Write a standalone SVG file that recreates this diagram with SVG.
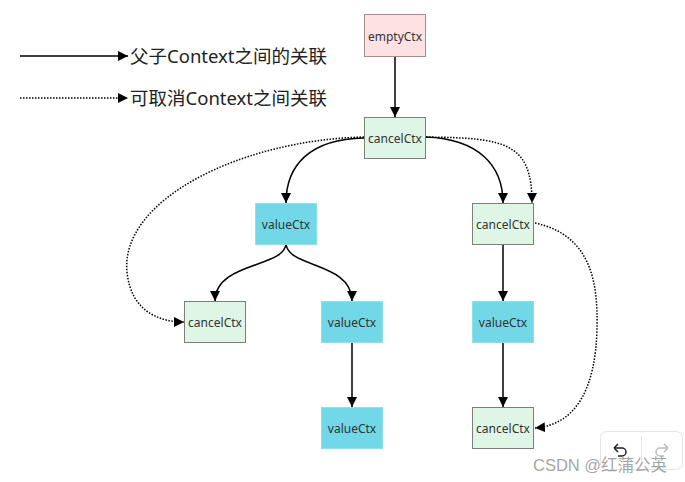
<svg xmlns="http://www.w3.org/2000/svg" width="685" height="482" viewBox="0 0 685 482">
<defs>
<marker id="arr" viewBox="0 0 10 10" refX="10" refY="5" markerWidth="10" markerHeight="10" markerUnits="userSpaceOnUse" orient="auto">
<path d="M0,0 L10,5 L0,10 z" fill="#000"/>
</marker>
<style>
.node rect{stroke-width:1}
.cancel rect{fill:#dff5e5;stroke:#7d7d7d}
.value rect{fill:#72d8e7;stroke:#8ee0ec}
.empty rect{fill:#fde1e3;stroke:#a58a8a}
.node text{font-family:"Noto Sans","Liberation Sans",sans-serif;font-size:12px;fill:#333;text-anchor:middle;dominant-baseline:central}
.solid{fill:none;stroke:#000;stroke-width:1.5;marker-end:url(#arr)}
.dot{fill:none;stroke:#000;stroke-width:1.5;stroke-dasharray:1.5 1.5;marker-end:url(#arr)}
.legend{font-family:"Noto Sans","Noto Sans CJK SC",sans-serif;font-size:18.5px;fill:#222}
</style>
</defs>
<rect width="685" height="482" fill="#fff"/>
<g id="legend">
<path class="solid" d="M20,56 H128"/>
<text class="legend" x="130" y="62.5">父子Context之间的关联</text>
<path class="dot" d="M20,98 H128"/>
<text class="legend" x="130" y="104.5">可取消Context之间关联</text>
</g>
<g id="connectors">
<path class="solid" d="M395,56 V117"/>
<path class="dot" d="M364,137 C240,140 120,200 127,272 C131,312 160,322 184,322"/>
<path class="solid" d="M364,138 C310,139 286,165 286,203"/>
<path class="solid" d="M426,137 C478,139 503,165 503,203"/>
<path class="dot" d="M426,137 C505,138 532,142 532,203"/>
<path class="solid" d="M286,244 C284,268 215,262 215,301"/>
<path class="solid" d="M286,244 C288,268 352,262 352,301"/>
<path class="solid" d="M352,343 V407"/>
<path class="solid" d="M503,245 V301"/>
<path class="solid" d="M503,343 V407"/>
<path class="dot" d="M535,223 C590,235 598,280 597,327 C596,390 575,425 535,428"/>
</g>
<g id="emptyCtx" class="node empty"><rect x="364.5" y="14.5" width="61" height="42"/><text x="395" y="36">emptyCtx</text></g>
<g id="cancelCtx1" class="node cancel"><rect x="364.5" y="117.5" width="61" height="41"/><text x="395" y="138">cancelCtx</text></g>
<g id="valueCtx1" class="node value"><rect x="255.5" y="203.5" width="61" height="41"/><text x="286" y="224">valueCtx</text></g>
<g id="cancelCtx2" class="node cancel"><rect x="472.5" y="203.5" width="61" height="41"/><text x="503" y="224">cancelCtx</text></g>
<g id="cancelCtx3" class="node cancel"><rect x="184.5" y="301.5" width="61" height="41"/><text x="215" y="322">cancelCtx</text></g>
<g id="valueCtx2" class="node value"><rect x="321.5" y="301.5" width="61" height="41"/><text x="352" y="322">valueCtx</text></g>
<g id="valueCtx3" class="node value"><rect x="472.5" y="301.5" width="61" height="41"/><text x="503" y="322">valueCtx</text></g>
<g id="valueCtx4" class="node value"><rect x="321.5" y="407.5" width="61" height="41"/><text x="352" y="428">valueCtx</text></g>
<g id="cancelCtx4" class="node cancel"><rect x="472.5" y="407.5" width="61" height="41"/><text x="503" y="428">cancelCtx</text></g>
<g id="overlay">
<rect x="600.5" y="431.5" width="82" height="38" rx="6" fill="#fff" fill-opacity="0.9" stroke="#e4e4e4"/>
<line x1="641.5" y1="436" x2="641.5" y2="465" stroke="#e4e4e4"/>
<path d="M614,448 L618,444 M614,448 L618,452 M614,448 H622 A4,4 0 0 1 622,456 H618" fill="none" stroke="#222" stroke-width="1.5"/>
<path d="M668,448 L664,444 M668,448 L664,452 M668,448 H660 A4,4 0 0 0 660,456 H664" fill="none" stroke="#bbb" stroke-width="1.5"/>
<text x="533" y="471" font-family="'Liberation Sans','Noto Sans CJK SC',sans-serif" font-size="16.5" fill="#999" fill-opacity="0.9">CSDN @红蒲公英</text>
</g>
</svg>
